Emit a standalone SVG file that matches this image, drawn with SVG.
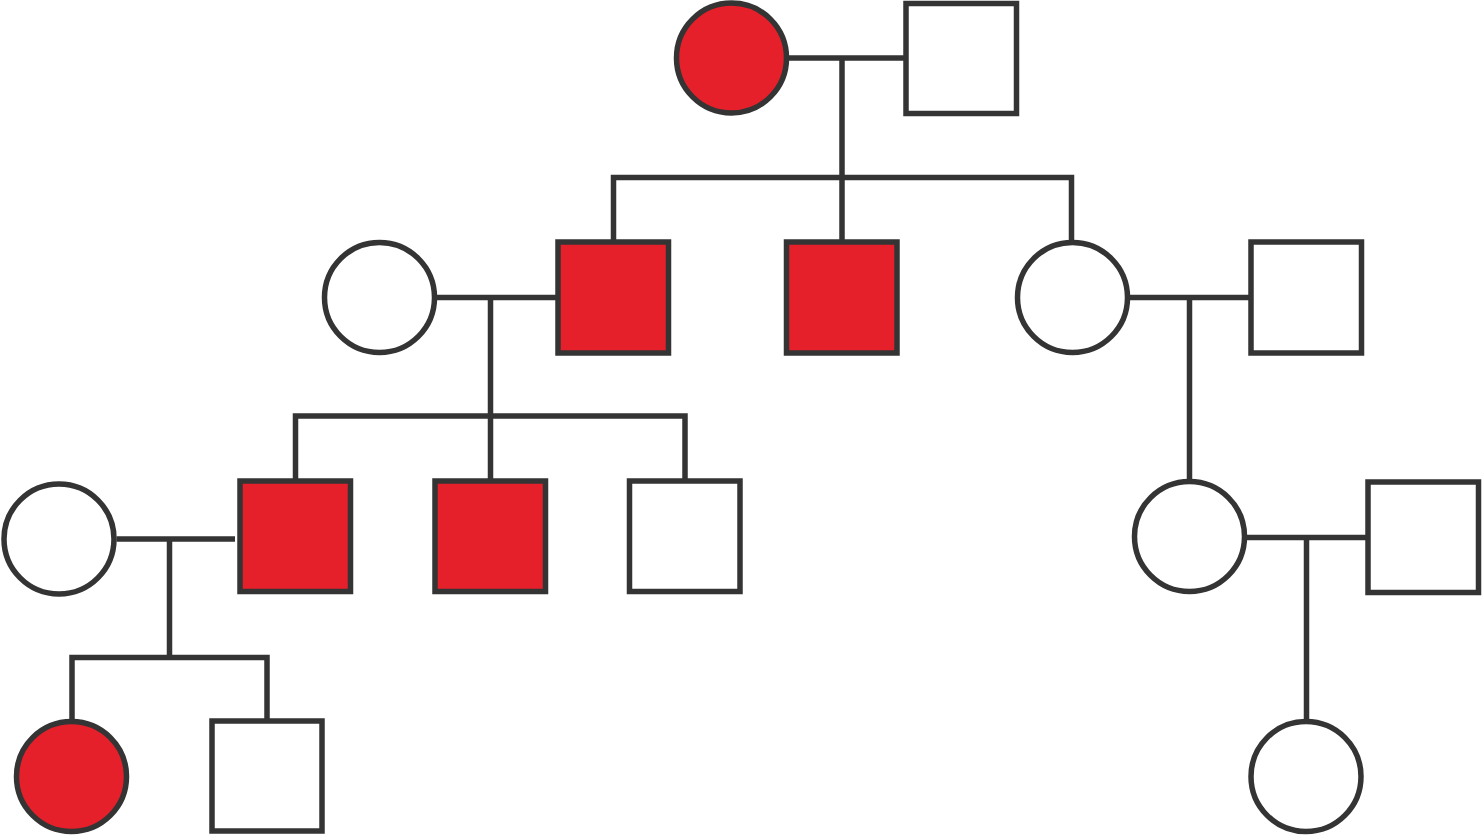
<svg xmlns="http://www.w3.org/2000/svg" width="1482" height="836" viewBox="0 0 1482 836">
<style>
.n{stroke:#343434;stroke-width:5.5;fill:#ffffff}
.a{fill:#e6202b}
.c{stroke:#343434;stroke-width:5.5;fill:none;stroke-linecap:butt;stroke-linejoin:miter}
</style>
<rect width="1482" height="836" fill="#ffffff"/>
<g id="connectors">
<path class="c" d="M787 58H906M842 58V241"/>
<path class="c" d="M613.5 241V177.5H1071.5V241"/>
<path class="c" d="M436.5 297.5H558M490.5 297.5V481"/>
<path class="c" d="M295.5 481V416H685V481"/>
<path class="c" d="M1130 297.5H1251M1189.5 297.5V481"/>
<path class="c" d="M116.5 539H235M169.5 539V657.5"/>
<path class="c" d="M72 720V657.5H267V721"/>
<path class="c" d="M1246.5 537.5H1368M1306.5 537.5V719"/>
</g>
<g id="n1"><circle class="n a" cx="731.5" cy="58" r="55"/></g>
<g id="n2"><rect class="n" x="906" y="3.5" width="110.5" height="110"/></g>
<g id="n3"><circle class="n" cx="379.5" cy="297.5" r="55"/></g>
<g id="n4"><rect class="n a" x="558" y="242" width="110.5" height="111"/></g>
<g id="n5"><rect class="n a" x="786.5" y="242" width="110.5" height="111"/></g>
<g id="n6"><circle class="n" cx="1072.5" cy="297.5" r="55"/></g>
<g id="n7"><rect class="n" x="1251" y="242" width="110.5" height="111"/></g>
<g id="n8"><circle class="n" cx="59" cy="539" r="55"/></g>
<g id="n9"><rect class="n a" x="240" y="481" width="110.5" height="110.5"/></g>
<g id="n10"><rect class="n a" x="435" y="481" width="110.5" height="110.5"/></g>
<g id="n11"><rect class="n" x="629.5" y="481" width="110.5" height="110.5"/></g>
<g id="n12"><circle class="n" cx="1189.5" cy="536.5" r="55"/></g>
<g id="n13"><rect class="n" x="1368" y="482" width="110.5" height="110.5"/></g>
<g id="n14"><circle class="n a" cx="71.5" cy="776.5" r="55"/></g>
<g id="n15"><rect class="n" x="212" y="721" width="110" height="110"/></g>
<g id="n16"><circle class="n" cx="1306" cy="776.5" r="55"/></g>
</svg>
